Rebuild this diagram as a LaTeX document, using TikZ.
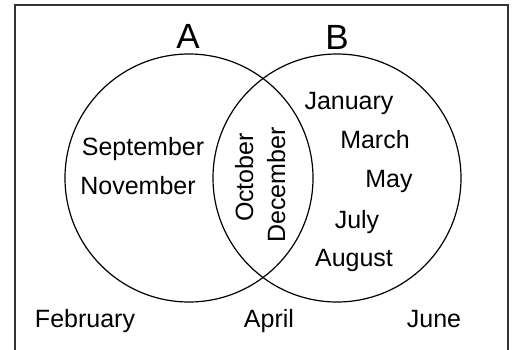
\documentclass[tikz,border=0pt]{standalone}
\usepackage{fontspec}
\setmainfont{Liberation Sans}
\begin{document}
\begin{tikzpicture}[x=1pt,y=-1pt,
  setcircle/.style={circle,draw=black,line width=1.2pt,minimum size=248pt,inner sep=0pt},
  month/.style={anchor=base,inner sep=0pt,font=\fontsize{25}{29}\selectfont},
  setlabel/.style={anchor=base,inner sep=0pt,font=\fontsize{35}{40}\selectfont}]
\useasboundingbox (0,0) rectangle (517,349);
\clip (0,0) rectangle (517,349);
\draw[line width=1.3pt,draw=black!80] (15,5) rectangle (508,370);
\node[setcircle] (cA) at (189,178) {};
\node[setcircle] (cB) at (337,178) {};
\node[setlabel] (lA) at (188,48) {A};
\node[setlabel] (lB) at (337,49) {B};
\node[month] (sep) at (143,155) {September};
\node[month] (nov) at (138,194) {November};
\node[month,rotate=90] (oct) at (253,177.5) {October};
\node[month,rotate=90] (dec) at (285,185) {December};
\node[month] (jan) at (349,109) {January};
\node[month] (mar) at (375,148) {March};
\node[month] (may) at (389,187) {May};
\node[month] (jul) at (357,228) {July};
\node[month] (aug) at (354,266) {August};
\node[month] (feb) at (85,327) {February};
\node[month] (apr) at (269,327) {April};
\node[month] (jun) at (434,327) {June};
\end{tikzpicture}
\end{document}
